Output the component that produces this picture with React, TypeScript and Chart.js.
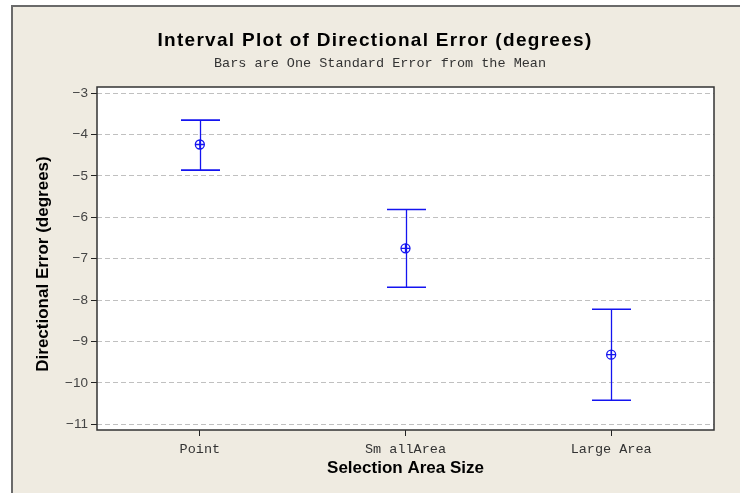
import React, { useEffect, useRef } from 'react';
import { Chart, registerables } from 'chart.js';
Chart.register(...registerables);

const categories = ['Point', 'Sm allArea', 'Large Area'];
const means = [-4.24, -6.75, -9.32];
const upper = [-3.65, -5.81, -8.22];
const lower = [-4.86, -7.69, -10.42];
const yTicks = [-3, -4, -5, -6, -7, -8, -9, -10, -11];
const yMin = -11.14;
const yMax = -2.85;
const titleText = 'Interval Plot of Directional Error (degrees)';
const subtitleText = 'Bars are One Standard Error from the Mean';
const xTitle = 'Selection Area Size';
const yTitle = 'Directional Error (degrees)';

const BLUE = '#1414f0';

const bgPlugin = {
  id: 'bg',
  beforeDraw(chart: any) {
    const { ctx, width, height, chartArea } = chart;
    ctx.save();
    ctx.fillStyle = '#ffffff';
    ctx.fillRect(0, 0, width, height);
    ctx.fillStyle = '#efebe1';
    ctx.fillRect(11, 5, width - 11, height - 5);
    ctx.strokeStyle = '#6a6a6a';
    ctx.lineWidth = 2;
    ctx.beginPath();
    ctx.moveTo(12, height);
    ctx.lineTo(12, 6);
    ctx.lineTo(width, 6);
    ctx.stroke();
    ctx.fillStyle = '#ffffff';
    ctx.fillRect(chartArea.left, chartArea.top, chartArea.right - chartArea.left, chartArea.bottom - chartArea.top);
    ctx.restore();
  },
};

const errorBarPlugin = {
  id: 'errorBars',
  beforeDatasetsDraw(chart: any) {
    const { ctx } = chart;
    const xs = chart.scales.x;
    const ys = chart.scales.y;
    ctx.save();
    categories.forEach((_, i) => {
      const x = Math.round(xs.getPixelForValue(i)) + 0.5;
      const yU = ys.getPixelForValue(upper[i]);
      const yL = ys.getPixelForValue(lower[i]);
      ctx.strokeStyle = BLUE;
      ctx.lineWidth = 1.3;
      ctx.beginPath();
      ctx.moveTo(x, yU);
      ctx.lineTo(x, yL);
      ctx.stroke();
      ctx.lineWidth = 1.6;
      ctx.beginPath();
      ctx.moveTo(x - 19.5, yU);
      ctx.lineTo(x + 19.5, yU);
      ctx.moveTo(x - 19.5, yL);
      ctx.lineTo(x + 19.5, yL);
      ctx.stroke();
    });
    ctx.restore();
  },
};

const textPlugin = {
  id: 'texts',
  afterDraw(chart: any) {
    const { ctx, chartArea } = chart;
    ctx.save();
    ctx.strokeStyle = '#333333';
    ctx.lineWidth = 1.5;
    ctx.strokeRect(chartArea.left, chartArea.top, chartArea.right - chartArea.left, chartArea.bottom - chartArea.top);

    ctx.textAlign = 'center';
    ctx.textBaseline = 'middle';
    ctx.fillStyle = '#000000';
    ctx.font = 'bold 19px "Liberation Sans", Arial, sans-serif';
    (ctx as any).letterSpacing = '1.3px';
    ctx.fillText(titleText, 375, 41);
    (ctx as any).letterSpacing = '0px';

    ctx.fillStyle = '#333333';
    ctx.font = '13.5px "Liberation Mono", monospace';
    ctx.fillText(subtitleText, 380, 63);

    ctx.fillStyle = '#000000';
    ctx.font = 'bold 17px "Liberation Sans", Arial, sans-serif';
    ctx.fillText(xTitle, (chartArea.left + chartArea.right) / 2, 468);

    ctx.translate(43, 264);
    ctx.rotate(-Math.PI / 2);
    ctx.fillText(yTitle, 0, 0);
    ctx.restore();
  },
};

export default function App() {
  const ref = useRef<HTMLCanvasElement>(null);
  useEffect(() => {
    document.body.style.margin = '0';
    const canvas = ref.current!;
    const chart = new Chart(canvas, {
      type: 'line',
      data: {
        labels: categories,
        datasets: [
          {
            data: means,
            showLine: false,
            pointStyle: 'circle',
            pointRadius: 4.5,
            pointBorderWidth: 1.3,
            pointBorderColor: BLUE,
            pointBackgroundColor: 'rgba(0,0,0,0)',
            borderColor: BLUE,
          },
          {
            data: means,
            showLine: false,
            pointStyle: 'cross',
            pointRadius: 4.5,
            pointBorderWidth: 1.3,
            pointBorderColor: BLUE,
            borderColor: BLUE,
          },
        ],
      },
      options: {
        responsive: false,
        animation: false,
        devicePixelRatio: 1,
        layout: { padding: { top: 87, right: 26, left: 0, bottom: 0 } },
        plugins: {
          legend: { display: false },
          tooltip: { enabled: false },
          title: { display: false },
        },
        scales: {
          x: {
            type: 'category',
            offset: true,
            grid: {
              drawOnChartArea: false,
              drawTicks: true,
              tickLength: 6,
              tickColor: '#222222',
              color: '#222222',
            },
            border: { display: false },
            ticks: {
              font: { family: '"Liberation Mono", monospace', size: 13.5 },
              color: '#333333',
              padding: 5,
              maxRotation: 0,
            },
            afterFit(scale: any) {
              scale.height = 63;
            },
          },
          y: {
            type: 'linear',
            min: yMin,
            max: yMax,
            afterBuildTicks(scale: any) {
              scale.ticks = yTicks.map((v) => ({ value: v }));
            },
            grid: {
              color: '#c0c0c0',
              lineWidth: 1,
              drawTicks: true,
              tickLength: 6,
              tickColor: '#222222',
              tickBorderDash: [],
            },
            border: { display: false, dash: [5, 3] },
            ticks: {
              font: { family: '"Liberation Sans", Arial, sans-serif', size: 13.5 },
              color: '#444444',
              padding: 3,
              callback: (v: any) => String(v).replace('-', '\u2212'),
            },
            afterFit(scale: any) {
              scale.width = 97;
            },
          },
        },
      },
      plugins: [bgPlugin, errorBarPlugin, textPlugin],
    } as any);
    return () => chart.destroy();
  }, []);
  return (
    <div style={{ width: 740, height: 493 }}>
      <canvas ref={ref} width={740} height={493} style={{ display: 'block' }} />
    </div>
  );
}
